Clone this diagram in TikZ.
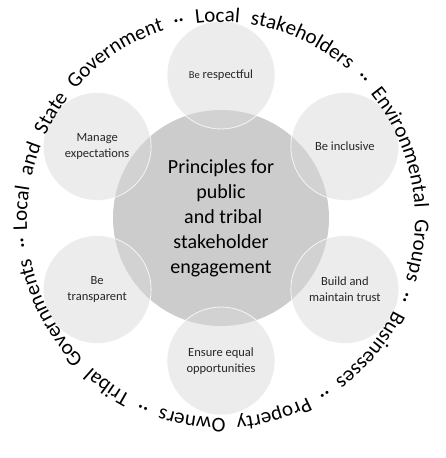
\documentclass[tikz,border=0pt]{standalone}
\usepackage{fontspec}
\setmainfont{Carlito}
\usepackage{tikz}
\usetikzlibrary{decorations.text}
\usepackage{xcolor}
\definecolor{coregray}{gray}{0.80}
\definecolor{petalgray}{gray}{0.85}
\definecolor{inktext}{gray}{0.15}

\begin{document}
\begin{tikzpicture}[x=1pt, y=1pt,
  petal/.style={circle, minimum size=108pt, inner sep=0pt, align=center,
    fill=petalgray, fill opacity=0.5, draw=white, draw opacity=0.8, line width=0.8pt,
    text opacity=1, text=inktext, font=\fontsize{12.5}{16}\selectfont},
  core/.style={circle, minimum size=216pt, inner sep=0pt, align=center,
    fill=coregray, text=black, font=\fontsize{20}{25}\selectfont}]
\useasboundingbox (-221, -240) rectangle (224, 218);
\node[core] (core) at (0, 0) {Principles for\\public\\\ and tribal\\stakeholder\\engagement};
\node[petal] (respect) at (90:143) {{\fontsize{10.5}{16}\selectfont Be} respectful};
\node[petal] (inclusive) at (30:143) {Be inclusive};
\node[petal] (trust) at (-30:143) {Build and\\maintain trust};
\node[petal] (equal) at (-90:143) {Ensure equal\\opportunities};
\node[petal] (transparent) at (-150:143) {Be\\transparent};
\node[petal] (expect) at (150:143) {Manage\\expectations};
% ring of stakeholder groups
\coordinate (ring) at (0, -2);
\path[decorate, decoration={text along path, text align={fit to path stretching spaces},
  text={|\fontsize{21}{21}\selectfont|Local and State Government ·· Local stakeholders ·· Environmental Groups ·· Businesses ·· Property Owners ·· Tribal Governments ··}}]
  (ring) ++(183:194 and 198) arc[start angle=183, end angle=-175, x radius=194, y radius=198];
\end{tikzpicture}
\end{document}
